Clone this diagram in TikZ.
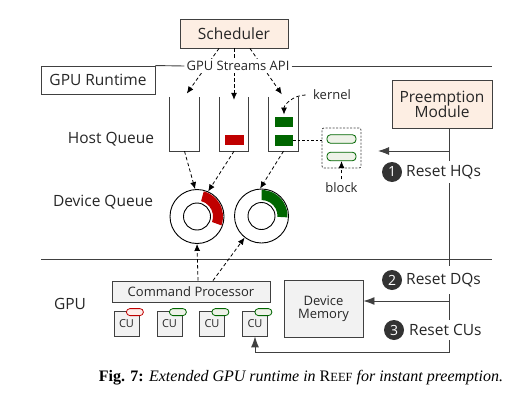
\documentclass[tikz,border=0pt]{standalone}
\usepackage{fontspec}
\setmainfont{Open Sans}
\newfontfamily\capfont{Liberation Serif}
\usepackage{xcolor}
\usetikzlibrary{arrows.meta}

\definecolor{peach}{HTML}{FDEEE3}
\definecolor{boxgray}{HTML}{F2F2F2}
\definecolor{linegray}{HTML}{404040}
\definecolor{txtgray}{HTML}{262626}
\definecolor{qred}{HTML}{C00000}
\definecolor{qgreen}{HTML}{006600}
\definecolor{pillgreen}{HTML}{EEF2E8}
\definecolor{pillred}{HTML}{FDEDEA}
\definecolor{numgray}{HTML}{333333}

\tikzset{
	bigtxt/.style={font=\fontsize{15.5}{18}\selectfont, text=txtgray},
	smalltxt/.style={font=\fontsize{13}{15}\selectfont, text=txtgray},
	tbox/.style={draw=linegray, line width=0.9pt, inner sep=0pt, align=center},
	hostq/.style={minimum width=29pt, minimum height=54pt, inner sep=0pt},
	qline/.style={draw=linegray, line width=1.3pt},
	kblock/.style={inner sep=0pt, minimum width=18pt, minimum height=10.5pt},
	ring/.style={circle, draw=black, line width=0.9pt, fill=white, minimum size=54pt, inner sep=0pt},
	inring/.style={circle, draw=black, line width=0.9pt, fill=white, minimum size=27pt, inner sep=0pt},
	pill/.style={draw=#1, line width=0.8pt, rounded corners=3.5pt, inner sep=0pt},
	cu/.style={draw=linegray, line width=0.8pt, fill=boxgray, minimum size=25pt, inner sep=0pt, font=\fontsize{11}{11}\selectfont, text=txtgray},
	dasharrow/.style={dash pattern=on 3.5pt off 2.5pt, line width=0.8pt, -{Latex[length=7pt,width=6pt]}},
	resetarrow/.style={draw=linegray, line width=0.9pt, -{Latex[length=11pt,width=8pt]}},
	num/.style={circle, fill=numgray, text=white, minimum size=20pt, inner sep=0pt, font=\fontsize{14}{14}\selectfont},
	resettxt/.style={bigtxt, fill=white, inner sep=4pt, anchor=west},
}

\begin{document}
\begin{tikzpicture}[x=1pt, y=1pt]
	\useasboundingbox (0,0) rectangle (516,-404);

	% boxes
	\node [tbox, fill=peach, minimum width=108pt, minimum height=29pt, bigtxt] (sched) at (234,-33.5) {Scheduler};
	\node [tbox, minimum width=114pt, minimum height=28pt, bigtxt] (rt) at (98,-80) {GPU Runtime};
	\node [tbox, fill=peach, minimum width=100pt, minimum height=48pt, bigtxt] (pm) at (442,-104) {Preemption\\[-3pt]Module};

	% row labels
	\node [bigtxt] (hqtxt) at (111,-139) {Host Queue};
	\node [bigtxt] (dqtxt) at (103,-202) {Device Queue};
	\node [bigtxt] (gputxt) at (70,-304) {GPU};

	% host queues
	\node [hostq] (q1) at (184.5,-124) {};
	\node [hostq] (q2) at (234,-124) {};
	\node [hostq] (q3) at (283.5,-124) {};
	\foreach \q in {q1,q2,q3}
		\draw [qline] (\q.north west) -- (\q.south west) -- (\q.south east) -- (\q.north east);
	\node [kblock, fill=qred, minimum width=19pt] (kr) at (234.5,-140) {};
	\node [kblock, fill=qgreen] (k1) at (284,-122) {};
	\node [kblock, fill=qgreen] (k2) at (284,-140.5) {};

	% kernel and block
	\node [smalltxt] (kern) at (332,-95) {kernel};
	\draw [dasharrow, shorten >=2pt] ([xshift=-4pt]kern.west) to [out=180, in=90] (k1.north);
	\node [draw=linegray, fill=white, dash pattern=on 2pt off 1.5pt, line width=0.8pt, rounded corners=2pt, minimum width=39pt, minimum height=40pt] (blk) at (341.5,-148) {};
	\node [pill=qgreen, fill=pillgreen, minimum width=29pt, minimum height=8.5pt] (p1) at (341.5,-139) {};
	\node [pill=qgreen, fill=pillgreen, minimum width=29pt, minimum height=8.5pt] (p2) at (341.5,-156.5) {};
	\draw [dash pattern=on 2.5pt off 2pt, line width=0.8pt] (k2.east) -- (blk.west |- k2.east);
	\node [smalltxt] (blktxt) at (341.5,-188) {block};
	\draw [dasharrow] (blktxt.north) -- (p2.south);

	% scheduler -> host queues
	\draw [dasharrow, shorten >=4pt] ([xshift=-15pt]sched.south) -- (q1.north);
	\draw [dasharrow] (sched.south) -- ([yshift=-3pt]q2.north);
	\draw [dasharrow, shorten >=3pt] ([xshift=16pt]sched.south) -- (q3.north);
	\node [smalltxt, fill=white, inner sep=2pt] (api) at (238,-66) {GPU Streams API};
	\draw [linegray, line width=0.9pt] (rt.north east) -- (api.west);
	\draw [linegray, line width=0.9pt] (api.east) -- (492,-66);

	% device queues
	\node [ring] (r1) at (197,-216.5) {};
	\node [ring] (r2) at (261.5,-216) {};
	\fill [qred] ([shift={(75:26)}]r1.center) arc [start angle=75, end angle=-20, radius=26]
		-- ([shift={(-20:16)}]r1.center) arc [start angle=-20, end angle=75, radius=16] -- cycle;
	\fill [qgreen] ([shift={(90:26)}]r2.center) arc [start angle=90, end angle=-3, radius=26]
		-- ([shift={(-3:16)}]r2.center) arc [start angle=-3, end angle=90, radius=16] -- cycle;
	\node [inring] (r1i) at (r1.center) {};
	\node [inring] (r2i) at (r2.center) {};
	\draw [dasharrow] (q1.south) -- (r1.94);
	\draw [dasharrow] (q2.south) -- (r1.66);
	\draw [dasharrow] (q3.south) -- (r2.93);

	% separator
	\coordinate (sepl) at (41,-259);
	\coordinate (sepr) at (492,-259);
	\draw [linegray, line width=0.9pt] (sepl) -- (sepr);

	% gpu side
	\node [tbox, fill=boxgray, minimum width=158pt, minimum height=21pt, smalltxt] (cp) at (191,-291.5) {Command Processor};
	\draw [dasharrow] ([xshift=7pt]cp.north) -- (r1.south);
	\draw [dasharrow] ([xshift=22pt]cp.north) -- (r2.232);
	\node [cu] (cu1) at (126.5,-323.5) {CU};
	\node [cu] (cu2) at (169.5,-323.5) {CU};
	\node [cu] (cu3) at (212,-323.5) {CU};
	\node [cu] (cu4) at (255,-323.5) {CU};
	\node [pill=qred, fill=pillred, minimum width=17pt, minimum height=7pt] (cp1) at ([shift={(-4.5,-1.5)}]cu1.north east) {};
	\foreach \c in {cu2,cu3,cu4}
		\node [pill=qgreen, fill=pillgreen, minimum width=17pt, minimum height=7pt] (p\c) at ([shift={(-4.5,-1.5)}]\c.north east) {};
	\node [tbox, fill=boxgray, minimum width=79pt, minimum height=57pt, smalltxt] (mem) at (323.5,-308.5) {Device\\[-2pt]Memory};

	% preemption resets
	\coordinate (pmout) at ([xshift=7pt]pm.south);
	\coordinate (hqin) at (378,-151);
	\coordinate (dqout) at (pmout |- 0,-301);
	\coordinate (bend) at (pmout |- 0,-352);
	\draw [resetarrow] (pmout) -- (bend) -| (cu4.south);
	\draw [resetarrow] (pmout |- hqin) -- (hqin);
	\draw [resetarrow] (dqout) -- (dqout -| mem.east);
	\node [num] (n1) at (392,-172) {1};
	\node [resettxt] (t1) at (402,-172) {Reset HQs};
	\node [num] (n2) at (392,-280) {2};
	\node [resettxt, inner ysep=7pt] (t2) at (402,-280) {Reset DQs};
	\node [num] (n3) at (394,-330) {3};
	\node [resettxt] (t3) at (405,-330) {Reset CUs};

	% caption
	\node [font=\capfont\fontsize{16}{18}\selectfont] (cap) at (301,-378)
		{\textbf{Fig. 7:} \textit{Extended GPU runtime in} R{\fontsize{12.5}{12}\selectfont EEF} \textit{for instant preemption.}};
\end{tikzpicture}
\end{document}
